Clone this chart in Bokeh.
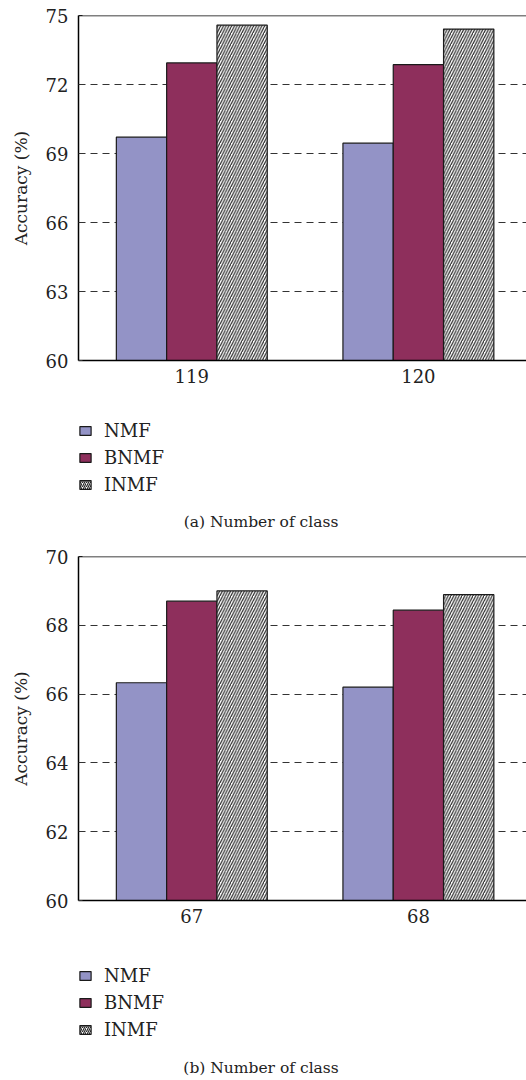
from bokeh.plotting import figure
from bokeh.models import (Range1d, FixedTicker, Legend, LegendItem, Span, ColumnDataSource, Label)
from bokeh.layouts import column
from bokeh.transform import dodge
from bokeh.embed import file_html
from bokeh.resources import INLINE

# ---- data ----
series = ["NMF", "BNMF", "INMF"]
cats_a = ["119", "120"]
nmf_a = [69.71, 69.45]
bnmf_a = [72.94, 72.86]
inmf_a = [74.58, 74.41]
ticks_a = [60, 63, 66, 69, 72, 75]

cats_b = ["67", "68"]
nmf_b = [66.33, 66.20]
bnmf_b = [68.70, 68.44]
inmf_b = [69.00, 68.89]
ticks_b = [60, 62, 64, 66, 68, 70]

FONT = "DejaVu Serif"
TXT = "#222222"
C_NMF = "#9393C6"
C_BNMF = "#8E2F5C"
EDGE = "#1a1a1a"
W = 526
LEFT = 78
BW = 0.222


def make_chart(cats, nmf, bnmf, inmf, ticks, frame_h):
    xs = [i + 0.5 for i in range(len(cats))]
    src = ColumnDataSource(dict(x=xs, nmf=nmf, bnmf=bnmf, inmf=inmf))
    fw = W - LEFT
    p = figure(x_range=Range1d(0, fw / 226.6), y_range=Range1d(ticks[0], ticks[-1]),
               frame_width=fw, frame_height=frame_h,
               min_border_left=LEFT, min_border_right=0, min_border_top=15, min_border_bottom=35,
               output_backend="svg", toolbar_location=None)
    p.outline_line_color = None
    p.vbar(x=dodge("x", -BW, range=p.x_range), top="nmf", bottom=ticks[0], width=BW, source=src,
           fill_color=C_NMF, line_color=EDGE, line_width=1.2)
    p.vbar(x="x", top="bnmf", bottom=ticks[0], width=BW, source=src,
           fill_color=C_BNMF, line_color=EDGE, line_width=1.2)
    p.vbar(x=dodge("x", BW, range=p.x_range), top="inmf", bottom=ticks[0], width=BW, source=src,
           fill_color="white", line_color=EDGE, line_width=1.2,
           hatch_pattern="/", hatch_color="#2a2a2a", hatch_scale=5.5, hatch_weight=1.2)

    p.add_layout(Span(location=ticks[-1], dimension="width", line_color="black", line_width=1.5))

    p.xgrid.grid_line_color = None
    p.ygrid.ticker = FixedTicker(ticks=ticks)
    p.ygrid.grid_line_color = "#333333"
    p.ygrid.grid_line_dash = "7 5"
    p.ygrid.grid_line_width = 1

    xa = p.xaxis[0]
    xa.ticker = FixedTicker(ticks=xs)
    xa.major_label_overrides = {x: c for x, c in zip(xs, cats)}
    xa.major_tick_in = 0
    xa.major_tick_out = 0
    xa.minor_tick_line_color = None
    xa.axis_line_color = "black"
    xa.axis_line_width = 1.5
    xa.major_label_standoff = 8
    xa.major_label_text_font = FONT
    xa.major_label_text_font_size = "18px"
    xa.major_label_text_color = TXT

    ya = p.yaxis[0]
    ya.ticker = FixedTicker(ticks=ticks)
    ya.major_tick_in = 4
    ya.major_tick_out = 0
    ya.major_tick_line_color = "#333333"
    ya.minor_tick_line_color = None
    ya.axis_line_color = "black"
    ya.axis_line_width = 1.5
    ya.major_label_standoff = 10
    ya.major_label_text_font = FONT
    ya.major_label_text_font_size = "18px"
    ya.major_label_text_color = TXT
    ya.axis_label = "Accuracy (%)"
    ya.axis_label_text_font = FONT
    ya.axis_label_text_font_size = "17px"
    ya.axis_label_text_font_style = "normal"
    ya.axis_label_text_color = TXT
    ya.axis_label_standoff = 12
    return p


def make_legend(height, caption, leg_y, cap_y):
    # frame spans page x from LEFT to W, so data x == page x
    p = figure(x_range=Range1d(LEFT, W), y_range=Range1d(height, 0),
               frame_width=W - LEFT, frame_height=height,
               min_border_left=LEFT, min_border_right=0, min_border_top=0, min_border_bottom=0,
               x_axis_type=None, y_axis_type=None,
               output_backend="svg", toolbar_location=None)
    p.outline_line_color = None
    p.grid.grid_line_color = None
    # legend proxies with no drawable data
    dummy = ColumnDataSource(dict(x=[float("nan")], top=[float("nan")]))
    r1 = p.vbar(x="x", top="top", width=1, source=dummy,
                fill_color=C_NMF, line_color=EDGE, line_width=1.2)
    r2 = p.vbar(x="x", top="top", width=1, source=dummy,
                fill_color=C_BNMF, line_color=EDGE, line_width=1.2)
    r3 = p.vbar(x="x", top="top", width=1, source=dummy,
                fill_color="white", line_color=EDGE, line_width=1.2,
                hatch_pattern="/", hatch_color="#2a2a2a", hatch_scale=4, hatch_weight=1.2)
    legend = Legend(items=[LegendItem(label=series[0], renderers=[r1]),
                           LegendItem(label=series[1], renderers=[r2]),
                           LegendItem(label=series[2], renderers=[r3])],
                    location=(0, leg_y), margin=0, padding=2, spacing=6,
                    glyph_width=14, glyph_height=11, label_height=20, label_standoff=12,
                    label_text_font=FONT, label_text_font_size="18px", label_text_color=TXT,
                    border_line_color=None, background_fill_alpha=0)
    p.add_layout(legend, "center")
    p.add_layout(Label(x=W / 2, y=cap_y, text=caption, text_align="center", text_baseline="middle",
                       text_font=FONT, text_font_size="15.5px", text_color=TXT))
    return p


pa = make_chart(cats_a, nmf_a, bnmf_a, inmf_a, ticks_a, 345)
la = make_legend(146, "(a)  Number of class", 46, 126)
pb = make_chart(cats_b, nmf_b, bnmf_b, inmf_b, ticks_b, 344)
lb = make_legend(145, "(b)  Number of class", 40, 132)

layout = column(pa, la, pb, lb, spacing=0)
open("out.html", "w").write(file_html(layout, INLINE))
